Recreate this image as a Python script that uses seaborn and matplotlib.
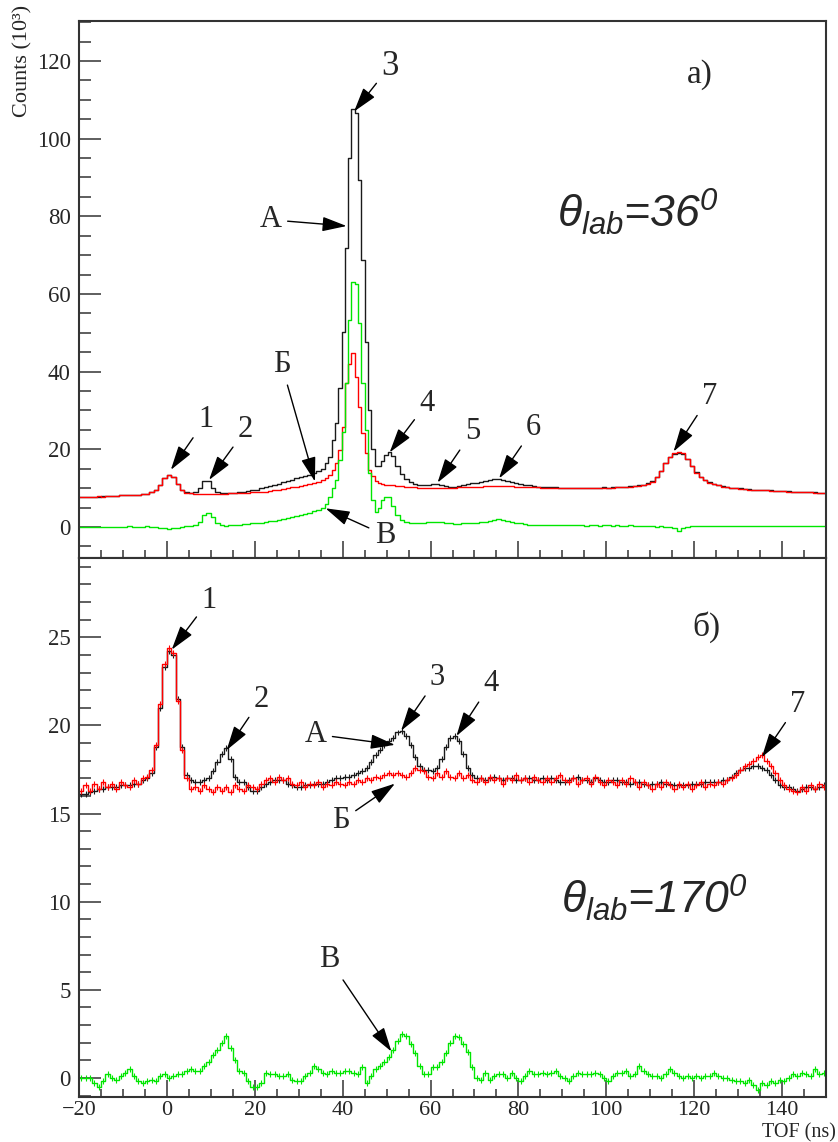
import numpy as np
import pandas as pd
import matplotlib
matplotlib.use("Agg")
import matplotlib.pyplot as plt
from matplotlib.ticker import MultipleLocator
import seaborn as sns

# ------------------------------------------------------------------ data
# Top panel (theta_lab = 36 deg): 1 ns bins, 0.75 ns bins around the main peak
top_edges = np.concatenate([np.arange(-20, 36, 1.0),
                            36 + 0.75 * np.arange(0, 21),
                            np.arange(52, 151, 1.0)])

top_A = [  # black, spectrum A
    7.7, 7.7, 7.8, 7.8, 7.8, 7.9, 7.9, 8.0, 8.0, 8.1,
    8.1, 8.2, 8.3, 8.3, 8.4, 8.6, 8.9, 9.4, 10.9, 12.5,
    13.3, 12.8, 11.0, 9.4, 8.9, 8.8, 8.9, 9.9, 11.8, 11.8,
    10.0, 9.0, 8.8, 8.7, 8.7, 8.8, 8.9, 9.0, 9.2, 9.4,
    9.6, 9.9, 10.2, 10.5, 10.8, 11.1, 11.5, 11.8, 12.2, 12.5,
    12.9, 13.2, 13.5, 13.9, 14.3, 15.0,
    16.4, 18.1, 22.4, 26.7, 35.7, 50.3, 71.8, 95.0, 107.6, 106.6,
    89.4, 68.8, 47.7, 30.0, 20.0, 15.8, 15.6, 17.0, 18.5, 19.2,
    18.2, 15.8, 13.6, 12.3, 11.5, 11.0, 10.8, 10.8, 10.9, 11.0,
    11.1, 10.9, 10.6, 10.4, 10.4, 10.6, 10.8, 11.0, 11.2, 11.4,
    11.6, 11.8, 12.0, 12.3, 12.4, 12.1, 11.8, 11.5, 11.2, 11.0,
    10.8, 10.7, 10.5, 10.4, 10.3, 10.3, 10.2, 10.2, 10.1, 10.1,
    10.0, 10.0, 10.0, 10.1, 10.0, 10.0, 10.1, 10.1, 10.2, 10.1,
    10.2, 10.2, 10.3, 10.4, 10.5, 10.6, 10.7, 10.9, 11.2, 11.8,
    12.9, 14.5, 16.4, 17.9, 18.9, 19.1, 18.7, 17.4, 15.6, 14.1,
    12.9, 12.1, 11.5, 11.1, 10.8, 10.5, 10.3, 10.1, 10.0, 9.9,
    9.8, 9.7, 9.6, 9.6, 9.5, 9.4, 9.4, 9.3, 9.3, 9.2,
    9.2, 9.1, 9.1, 9.0, 9.0, 8.9, 8.9, 8.8, 8.8,
]
top_B = [  # red, spectrum Б
    7.7, 7.8, 7.7, 7.8, 7.9, 7.8, 7.9, 8.0, 8.0, 8.1,
    8.2, 8.2, 8.3, 8.3, 8.4, 8.6, 8.9, 9.4, 10.9, 12.5,
    13.3, 12.8, 11.0, 9.4, 8.8, 8.7, 8.6, 8.6, 8.6, 8.6,
    8.6, 8.6, 8.6, 8.6, 8.7, 8.7, 8.7, 8.8, 8.8, 8.9,
    8.9, 9.0, 9.1, 9.3, 9.4, 9.6, 9.8, 10.0, 10.2, 10.4,
    10.6, 10.8, 11.1, 11.4, 11.7, 12.1,
    12.6, 13.3, 14.6, 16.4, 19.8, 25.8, 37.0, 42.0, 44.9, 38.6,
    31.0, 24.2, 19.0, 14.6, 13.0, 11.8, 11.3, 11.0, 10.9, 10.8,
    10.8, 10.6, 10.5, 10.4, 10.3, 10.2, 10.1, 10.0, 10.0, 9.9,
    9.9, 9.9, 10.0, 10.0, 10.1, 10.2, 10.2, 10.3, 10.3, 10.4,
    10.4, 10.5, 10.5, 10.6, 10.6, 10.6, 10.5, 10.5, 10.4, 10.4,
    10.3, 10.3, 10.2, 10.2, 10.1, 10.1, 10.1, 10.0, 10.0, 10.0,
    9.9, 10.0, 9.9, 10.0, 9.9, 10.0, 10.0, 10.1, 10.0, 10.1,
    10.1, 10.2, 10.2, 10.3, 10.4, 10.5, 10.6, 10.8, 11.1, 11.7,
    12.8, 14.5, 16.5, 18.0, 19.0, 19.3, 19.1, 17.6, 15.6, 14.0,
    12.8, 12.0, 11.4, 11.0, 10.7, 10.4, 10.2, 10.0, 9.9, 9.8,
    9.7, 9.6, 9.6, 9.5, 9.5, 9.4, 9.3, 9.3, 9.2, 9.2,
    9.1, 9.1, 9.0, 9.0, 8.9, 8.9, 8.8, 8.8, 8.8,
]
top_V = [  # green, spectrum В
    0.0, 0.1, 0.0, -0.1, 0.0, 0.1, 0.0, 0.0, 0.1, 0.0,
    0.1, 0.2, 0.1, 0.0, 0.1, 0.2, 0.0, -0.1, -0.2, -0.3,
    -0.5, -0.4, -0.2, 0.1, 0.2, 0.2, 0.5, 1.2, 3.0, 3.6,
    2.6, 1.0, 0.5, 0.3, 0.4, 0.5, 0.6, 0.7, 0.8, 0.9,
    1.0, 1.1, 1.3, 1.5, 1.6, 1.8, 2.0, 2.2, 2.5, 2.7,
    3.0, 3.3, 3.6, 4.0, 4.4, 5.0,
    6.0, 7.8, 10.0, 12.1, 17.3, 24.5, 37.0, 53.3, 63.2, 62.5,
    52.4, 37.0, 25.0, 14.0, 7.0, 3.9, 5.0, 7.0, 7.8, 7.8,
    5.5, 3.0, 1.7, 1.2, 1.0, 1.0, 1.0, 1.1, 1.2, 1.2,
    1.3, 1.2, 1.0, 0.9, 0.8, 0.8, 0.9, 0.9, 1.0, 1.0,
    1.2, 1.3, 1.5, 1.8, 2.0, 1.9, 1.6, 1.3, 1.1, 0.9,
    0.7, 0.6, 0.6, 0.5, 0.5, 0.4, 0.5, 0.4, 0.4, 0.5,
    0.4, 0.4, 0.5, 0.4, 0.3, 0.4, 0.4, 0.3, 0.4, 0.4,
    0.3, 0.4, 0.3, 0.3, 0.4, 0.3, 0.2, 0.3, 0.2, 0.2,
    0.1, 0.2, 0.1, 0.0, -0.4, -1.0, -0.3, 0.1, 0.2, 0.3,
    0.2, 0.3, 0.3, 0.2, 0.3, 0.3, 0.2, 0.3, 0.3, 0.3,
    0.2, 0.3, 0.3, 0.2, 0.3, 0.2, 0.3, 0.3, 0.2, 0.3,
    0.3, 0.2, 0.3, 0.3, 0.2, 0.3, 0.3, 0.3, 0.3,
]

# Bottom panel (theta_lab = 170 deg): 1 ns bins
bot_edges = np.arange(-20, 151, 1.0)
bot_A = [  # black
    16.1, 16.1, 16.2, 16.3, 16.4, 16.4, 16.5, 16.5, 16.5, 16.6,
    16.6, 16.6, 16.7, 16.7, 16.9, 17.0, 17.3, 18.8, 21.0, 23.3,
    24.2, 24.0, 21.5, 18.8, 17.2, 16.9, 16.8, 16.8, 16.9, 17.0,
    17.4, 17.9, 18.4, 18.7, 18.1, 17.1, 16.8, 16.8, 16.5, 16.3,
    16.3, 16.5, 16.7, 16.8, 16.9, 16.9, 16.9, 16.7, 16.6, 16.5,
    16.5, 16.6, 16.6, 16.7, 16.7, 16.7, 16.8, 16.9, 17.0, 17.0,
    17.1, 17.1, 17.2, 17.3, 17.4, 17.6, 17.9, 18.3, 18.6, 18.9,
    19.1, 19.3, 19.6, 19.7, 19.4, 18.9, 18.2, 17.7, 17.5, 17.5,
    17.4, 17.6, 18.1, 18.8, 19.3, 19.4, 19.1, 18.4, 17.6, 17.2,
    17.0, 17.0, 16.9, 17.0, 17.1, 17.0, 16.9, 17.0, 17.0, 16.9,
    16.9, 17.0, 17.0, 16.9, 16.9, 17.0, 16.9, 17.0, 16.9, 16.8,
    16.8, 16.9, 17.0, 17.1, 16.9, 16.9, 16.8, 17.0, 16.9, 16.8,
    16.8, 16.9, 16.9, 16.8, 16.8, 16.7, 16.8, 16.8, 16.7, 16.6,
    16.7, 16.7, 16.8, 16.7, 16.7, 16.6, 16.6, 16.6, 16.6, 16.7,
    16.7, 16.7, 16.8, 16.8, 16.8, 16.8, 16.9, 16.9, 17.1, 17.3,
    17.5, 17.6, 17.6, 17.7, 17.7, 17.6, 17.5, 17.2, 16.9, 16.6,
    16.5, 16.5, 16.4, 16.3, 16.4, 16.5, 16.5, 16.4, 16.5, 16.6,
]
bot_B = [  # red
    16.3, 16.6, 16.3, 16.7, 16.4, 16.8, 16.5, 16.7, 16.4, 16.8,
    16.6, 16.5, 16.9, 16.7, 17.0, 17.1, 17.5, 18.9, 21.2, 23.5,
    24.4, 24.1, 21.4, 18.6, 17.0, 16.4, 16.5, 16.3, 16.6, 16.4,
    16.2, 16.5, 16.3, 16.5, 16.2, 16.6, 16.4, 16.3, 16.6, 16.5,
    16.4, 16.7, 16.9, 17.0, 16.8, 17.1, 16.9, 17.0, 16.7, 16.6,
    16.8, 16.5, 16.7, 16.6, 16.8, 16.5, 16.7, 16.6, 16.8, 16.7,
    16.6, 16.8, 16.7, 16.9, 16.8, 17.0, 16.9, 17.1, 17.0, 17.2,
    17.3, 17.2, 17.3, 17.2, 17.1, 17.3, 17.6, 17.5, 17.4, 17.1,
    17.0, 17.3, 17.1, 17.4, 17.1, 17.0, 17.3, 17.0, 17.2, 16.9,
    16.8, 17.0, 16.8, 17.1, 16.9, 17.0, 16.7, 17.0, 16.9, 17.2,
    16.9, 17.0, 16.8, 17.1, 16.9, 16.8, 17.0, 16.8, 17.0, 17.2,
    16.9, 16.8, 17.0, 16.7, 16.9, 17.0, 16.7, 17.1, 16.8, 16.6,
    16.9, 16.8, 16.6, 16.9, 16.7, 17.0, 16.8, 16.5, 16.8, 16.6,
    16.4, 16.7, 16.5, 16.8, 16.6, 16.4, 16.7, 16.5, 16.7, 16.4,
    16.6, 16.8, 16.5, 16.7, 16.6, 16.8, 16.7, 16.9, 17.0, 17.2,
    17.5, 17.7, 17.8, 18.0, 18.2, 18.3, 18.0, 17.7, 17.3, 16.9,
    16.6, 16.4, 16.3, 16.2, 16.5, 16.3, 16.6, 16.4, 16.7, 16.5,
]
bot_V = [  # green
    0.0, 0.0, 0.0, -0.3, -0.5, -0.2, 0.2, 0.0, -0.1, 0.1,
    0.3, 0.5, 0.1, -0.2, -0.3, -0.2, -0.1, -0.2, 0.1, 0.2,
    0.0, 0.1, 0.2, 0.2, 0.4, 0.5, 0.4, 0.4, 0.7, 0.9,
    1.3, 1.6, 2.0, 2.4, 1.7, 1.0, 0.4, 0.3, -0.2, -0.5,
    -0.5, -0.3, 0.3, 0.2, 0.2, 0.1, 0.1, 0.2, -0.1, -0.2,
    -0.2, 0.1, 0.3, 0.7, 0.5, 0.3, 0.2, 0.4, 0.3, 0.3,
    0.4, 0.4, 0.3, 0.2, 0.6, -0.3, 0.1, 0.5, 0.7, 0.9,
    1.2, 1.6, 2.1, 2.5, 2.4, 1.9, 1.4, 0.7, 0.2, 0.2,
    0.6, 0.6, 0.9, 1.4, 2.0, 2.4, 2.3, 1.9, 1.5, 0.6,
    0.0, -0.1, 0.3, -0.1, 0.1, 0.2, 0.2, 0.0, 0.3, 0.0,
    -0.2, 0.1, 0.4, 0.2, 0.2, 0.3, 0.2, 0.3, 0.4, 0.1,
    0.0, -0.2, 0.1, 0.3, 0.2, 0.2, 0.2, 0.3, 0.2, 0.0,
    -0.2, 0.1, 0.3, 0.3, 0.4, 0.1, 0.2, 0.7, 0.4, 0.2,
    0.1, 0.1, 0.0, 0.2, 0.5, 0.3, 0.1, 0.0, 0.1, 0.0,
    0.1, 0.0, 0.1, 0.1, 0.3, 0.1, 0.0, 0.0, -0.1, -0.2,
    -0.2, -0.3, -0.1, -0.4, -0.7, -0.3, -0.4, -0.2, -0.3, -0.1,
    -0.2, 0.0, 0.2, 0.1, 0.3, 0.2, 0.1, 0.5, 0.2, 0.3,
]
bot_err = 0.17

x_ticks_major, x_ticks_minor = 20, 5
series_colors = {"A": "#1a1a1a", "B": "#ff0000", "V": "#00e600"}

# ------------------------------------------------------------------ style
sns.set_theme(style="ticks")
plt.rcParams["font.family"] = ["Liberation Serif", "DejaVu Serif"]
plt.rcParams["mathtext.fontset"] = "custom"
plt.rcParams["mathtext.it"] = "Liberation Sans:italic"
plt.rcParams["mathtext.rm"] = "Liberation Sans:italic"
plt.rcParams["axes.unicode_minus"] = True

W, H = 838, 1142
fig = plt.figure(figsize=(W / 100, H / 100), dpi=100)
left, right = 79, 826
ax_top = fig.add_axes([left / W, 1 - 558 / H, (right - left) / W, (558 - 21) / H])
ax_bot = fig.add_axes([left / W, 1 - 1097 / H, (right - left) / W, (1097 - 558) / H])


def draw_hist(ax, edges, values, color, err=None):
    edges = np.asarray(edges, dtype=float)
    centers = 0.5 * (edges[:-1] + edges[1:])
    df = pd.DataFrame({"tof": centers, "counts": np.asarray(values, dtype=float)})
    sns.histplot(data=df, x="tof", weights="counts", bins=list(edges),
                 element="step", fill=False, color=color, linewidth=1.0, ax=ax)
    if err is not None:
        ax.errorbar(df["tof"], df["counts"], yerr=err, fmt="none", ecolor=color,
                    elinewidth=0.8, capsize=0)


draw_hist(ax_top, top_edges, top_A, series_colors["A"])
draw_hist(ax_top, top_edges, top_B, series_colors["B"])
draw_hist(ax_top, top_edges, top_V, series_colors["V"])

draw_hist(ax_bot, bot_edges, bot_A, series_colors["A"], bot_err)
draw_hist(ax_bot, bot_edges, bot_B, series_colors["B"], bot_err)
draw_hist(ax_bot, bot_edges, bot_V, series_colors["V"], bot_err)

ax_top.set_xlim(-20, 150)
ax_bot.set_xlim(-20, 150)
ax_top.set_ylim(-8, 130.3)
ax_bot.set_ylim(-1.08, 29.5)

for ax, ymaj, ymin in ((ax_top, 20, 5), (ax_bot, 5, 1)):
    ax.xaxis.set_major_locator(MultipleLocator(x_ticks_major))
    ax.xaxis.set_minor_locator(MultipleLocator(x_ticks_minor))
    ax.yaxis.set_major_locator(MultipleLocator(ymaj))
    ax.yaxis.set_minor_locator(MultipleLocator(ymin))
    ax.tick_params(axis="y", which="major", direction="in", length=16,
                   width=1.1, color="#333333", labelsize=16.5, pad=6)
    ax.tick_params(axis="y", which="minor", direction="in", length=8.5,
                   width=1.1, color="#333333")
    ax.tick_params(axis="x", which="major", direction="in", length=12,
                   width=1.1, color="#333333", labelsize=16, pad=3)
    ax.tick_params(axis="x", which="minor", direction="in", length=6,
                   width=1.1, color="#333333")
    for sp in ax.spines.values():
        sp.set_linewidth(1.5)
        sp.set_color("#333333")
    ax.set_xlabel("")
    ax.set_ylabel("")

ax_top.tick_params(axis="x", labelbottom=False)

ax_top.set_ylabel("Counts (10³)", fontsize=16, loc="top")
ax_top.yaxis.set_label_coords(-0.062, 1.03)
ax_bot.set_xlabel("TOF (ns)", fontsize=14.5, loc="right")
ax_bot.xaxis.set_label_coords(1.0134, -0.0495)

arrow_kw = dict(arrowstyle="-|>,head_length=1.0,head_width=0.3",
                color="black", lw=1.0, shrinkA=2, shrinkB=0,
                mutation_scale=15)


def label(ax, txt, tip, pos, fs=22):
    ax.annotate(txt, xy=tip, xytext=pos, ha="center", va="center",
                fontsize=fs, arrowprops=arrow_kw)


# top panel annotations
label(ax_top, "1", (0.9, 14.7), (8.8, 27.6))
label(ax_top, "2", (9.6, 12.1), (17.9, 25.0))
label(ax_top, "3", (42.6, 107.0), (50.8, 118.7), fs=25)
label(ax_top, "А", (40.9, 77.5), (23.6, 79.1))
label(ax_top, "Б", (33.7, 11.7), (26.1, 41.8))
label(ax_top, "4", (50.7, 19.2), (59.2, 31.9))
label(ax_top, "5", (61.6, 11.4), (69.5, 24.5))
label(ax_top, "6", (75.6, 12.5), (83.5, 25.5))
label(ax_top, "7", (115.3, 19.4), (123.5, 33.6))
label(ax_top, "В", (36.1, 4.8), (49.6, -2.1))
ax_top.text(121.3, 116.6, "а)", fontsize=24, ha="center", va="center")
ax_top.text(107.2, 81.1, r"$\theta_{lab}$=36$^{0}$", fontsize=32,
            family="Liberation Sans", style="italic", ha="center", va="center")

# bottom panel annotations
label(ax_bot, "1", (1.1, 24.3), (9.6, 27.1))
label(ax_bot, "2", (13.6, 18.6), (21.5, 21.5))
label(ax_bot, "3", (53.3, 19.7), (61.6, 22.7))
label(ax_bot, "А", (51.9, 18.9), (33.8, 19.5))
label(ax_bot, "4", (65.9, 19.4), (73.8, 22.4))
label(ax_bot, "7", (135.4, 18.2), (143.6, 21.2))
label(ax_bot, "Б", (51.9, 16.7), (39.7, 14.6))
label(ax_bot, "В", (51.1, 1.5), (37.0, 6.7))
ax_bot.text(122.9, 25.6, "б)", fontsize=24, ha="center", va="center")
ax_bot.text(110.9, 10.2, r"$\theta_{lab}$=170$^{0}$", fontsize=32,
            family="Liberation Sans", style="italic", ha="center", va="center")

fig.savefig("out.png", dpi=100, facecolor="white")
